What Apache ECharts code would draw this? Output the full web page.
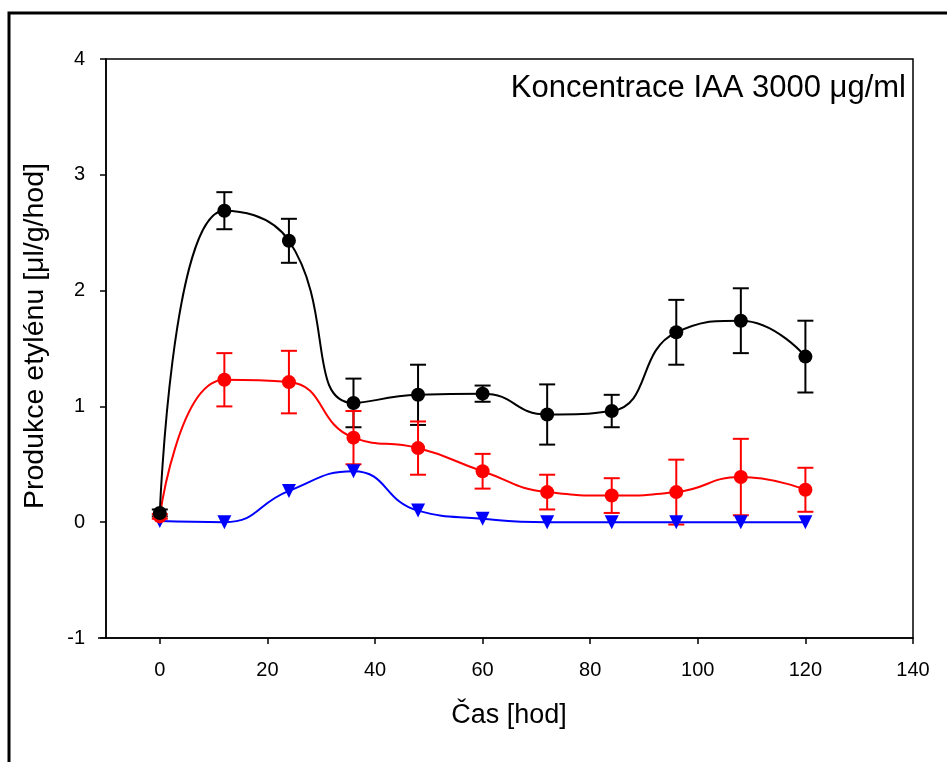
<!DOCTYPE html>
<html><head><meta charset="utf-8">
<script src="https://cdn.jsdelivr.net/npm/echarts@6/dist/echarts.min.js"></script>
<style>html,body{margin:0;padding:0;background:#fff}#c{width:947px;height:762px}</style>
</head><body><div id="c"></div>
<script>
const hours = [0, 12, 24, 36, 48, 60, 72, 84, 96, 108, 120];
const blackVals = [0.08, 2.69, 2.43, 1.03, 1.10, 1.11, 0.93, 0.96, 1.64, 1.74, 1.43];
const blackErr  = [0.03, 0.16, 0.19, 0.21, 0.26, 0.07, 0.26, 0.14, 0.28, 0.28, 0.31];
const redVals   = [0.05, 1.23, 1.21, 0.73, 0.64, 0.44, 0.26, 0.23, 0.26, 0.39, 0.28];
const redErr    = [0.02, 0.23, 0.27, 0.23, 0.23, 0.15, 0.15, 0.15, 0.28, 0.33, 0.19];
const blueVals  = [0.01, 0.00, 0.27, 0.44, 0.10, 0.03, 0.00, 0.00, 0.00, 0.00, 0.00];
const blueErr   = [0.01, 0.01, 0.03, 0.04, 0.03, 0.01, 0.00, 0.00, 0.00, 0.00, 0.00];
const xTicks = [0, 20, 40, 60, 80, 100, 120, 140];
const yTicks = [-1, 0, 1, 2, 3, 4];
const titleText = 'Koncentrace IAA 3000 μg/ml';
const xName = 'Čas [hod]';
const yName = 'Produkce etylénu [μl/g/hod]';

const FONT = '"Liberation Sans", Arial, sans-serif';
const chart = echarts.init(document.getElementById('c'), null, {renderer: 'canvas'});

function pairs(vals) { return hours.map((h, i) => [h, vals[i]]); }
function errData(vals, errs) { return hours.map((h, i) => [h, vals[i] - errs[i], vals[i] + errs[i]]); }
function errSeries(vals, errs, color) {
  return {
    type: 'custom',
    data: errData(vals, errs),
    z: 3,
    silent: true,
    renderItem: function (params, api) {
      const lo = api.coord([api.value(0), api.value(1)]);
      const hi = api.coord([api.value(0), api.value(2)]);
      const w = 8;
      const st = {stroke: color, lineWidth: 2};
      return {type: 'group', children: [
        {type: 'line', shape: {x1: lo[0], y1: lo[1], x2: hi[0], y2: hi[1]}, style: st},
        {type: 'line', shape: {x1: hi[0] - w, y1: hi[1], x2: hi[0] + w, y2: hi[1]}, style: st},
        {type: 'line', shape: {x1: lo[0] - w, y1: lo[1], x2: lo[0] + w, y2: lo[1]}, style: st}
      ]};
    }
  };
}
function lineSeries(vals, color, symbol, rotate) {
  return {
    type: 'line', data: pairs(vals), smooth: 0.5,
    symbol: symbol, symbolSize: 14, symbolRotate: rotate || 0,
    showSymbol: true,
    lineStyle: {color: color, width: 2},
    itemStyle: {color: color},
    z: 4
  };
}

chart.setOption({
  animation: false,
  backgroundColor: '#fff',
  grid: {left: 106, top: 59, right: 34, bottom: 124, show: true, borderColor: '#000', borderWidth: 1.5, backgroundColor: 'transparent'},
  xAxis: {
    type: 'value', min: -10, max: 140, interval: 10,
    axisLine: {show: true, onZero: false, lineStyle: {color: '#000', width: 1.5}},
    axisTick: {show: true, inside: false, length: 6, lineStyle: {color: '#000', width: 1.5},
      customValues: xTicks},
    axisLabel: {color: '#000', fontFamily: FONT, fontSize: 20, margin: 22,
      customValues: xTicks},
    splitLine: {show: false}
  },
  yAxis: {
    type: 'value', min: -1, max: 4, interval: 1,
    axisLine: {show: true, onZero: false, lineStyle: {color: '#000', width: 1.5}},
    axisTick: {show: true, inside: false, length: 6, lineStyle: {color: '#000', width: 1.5}},
    axisLabel: {color: '#000', fontFamily: FONT, fontSize: 20, margin: 21,
      formatter: v => (yTicks.indexOf(v) >= 0 ? String(v) : '')},
    splitLine: {show: false}
  },
  graphic: [
    {type: 'rect', shape: {x: 9, y: 13, width: 960, height: 780},
      style: {fill: 'none', stroke: '#000', lineWidth: 3}, silent: true, z: 10},
    {type: 'line', shape: {x1: 98, y1: 638, x2: 106, y2: 638},
      style: {stroke: '#000', lineWidth: 1.5}, silent: true},
    {type: 'text', x: 906, y: 88, silent: true,
      style: {text: titleText, fontFamily: FONT, fontSize: 31, fill: '#000', textAlign: 'right', textVerticalAlign: 'middle'}},
    {type: 'text', x: 509, y: 716, silent: true,
      style: {text: xName, fontFamily: FONT, fontSize: 27, fill: '#000', textAlign: 'center', textVerticalAlign: 'middle'}},
    {type: 'text', x: 35, y: 336, rotation: Math.PI / 2, silent: true,
      style: {text: yName, fontFamily: FONT, fontSize: 28.5, fill: '#000', textAlign: 'center', textVerticalAlign: 'middle'}}
  ],
  series: [
    errSeries(blackVals, blackErr, '#000'),
    errSeries(redVals, redErr, '#ff0000'),
    lineSeries(blueVals, '#0000ff', 'triangle', 180),
    lineSeries(redVals, '#ff0000', 'circle'),
    lineSeries(blackVals, '#000', 'circle')
  ]
});
</script></body></html>
